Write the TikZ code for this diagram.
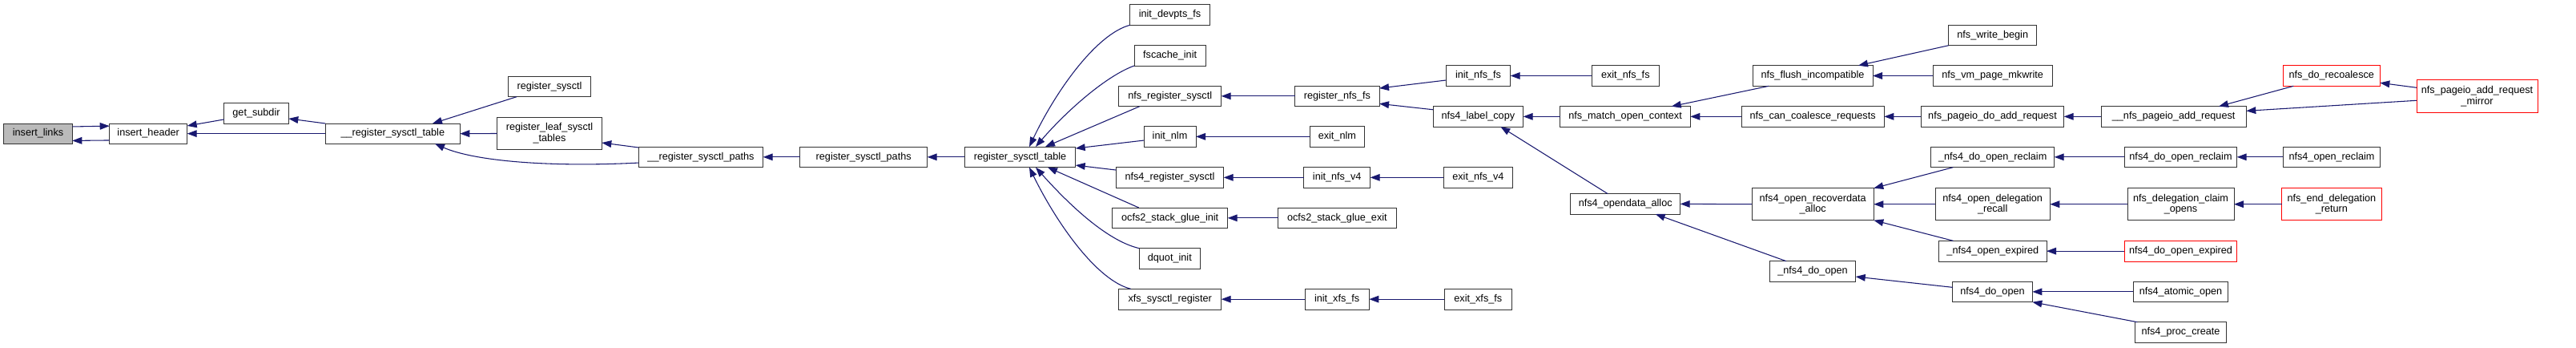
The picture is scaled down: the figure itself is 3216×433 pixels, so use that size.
\documentclass[tikz,border=0pt]{standalone}
\usepackage{fontspec}
\setmainfont{Liberation Sans}
\usetikzlibrary{arrows.meta,calc}
\definecolor{edgeblue}{HTML}{191970}
\tikzset{
  box/.style={draw=black!80,line width=0.75pt,inner sep=0pt,outer sep=0pt,fill=white,
    align=center,font=\fontsize{9.5}{10.3}\selectfont},
  hl/.style={fill=black!27},
  redbox/.style={draw=red},
  e/.style={draw=edgeblue,line width=0.8pt,-{Triangle[length=9pt,width=6.5pt]}}
}
\newcommand\gnode[7][]{%
  \node[box,#1,minimum width={(#5-#3)*0.75pt},minimum height={(#6-#4)*0.75pt}] (#2) at ({(#3+#5)/2},{(#4+#6)/2}) {#7};}
\begin{document}
\begin{tikzpicture}[x=0.75pt,y=-0.75pt]
\fill[white] (0,0) rectangle (3216,433);
\useasboundingbox (0,0) rectangle (3216,433);
\gnode[hl]{links}{4.7}{154}{90.3}{179.3}{insert\_links}
\gnode{header}{136.7}{154}{233.7}{179.3}{insert\_header}
\gnode{subdir}{279.7}{128.3}{360.3}{154}{get\_subdir}
\gnode{rstU}{406.3}{154}{574.3}{179.3}{\_\_register\_sysctl\_table}
\gnode{regsysctl}{634.3}{95}{737.7}{120.7}{register\_sysctl}
\gnode{leaf}{620.7}{146.3}{751.3}{186.7}{register\_leaf\_sysctl\\\_tables}
\gnode{rspU}{797.3}{183}{952.7}{208.7}{\_\_register\_sysctl\_paths}
\gnode{rsp}{998.7}{183}{1157.7}{208.7}{register\_sysctl\_paths}
\gnode{rst}{1204.3}{183}{1342.7}{208.7}{register\_sysctl\_table}
\gnode{devpts}{1410.7}{5.7}{1510.3}{31.3}{init\_devpts\_fs}
\gnode{fscache}{1416}{56.7}{1505.3}{82}{fscache\_init}
\gnode{nfsreg}{1396.7}{107}{1524.7}{132.7}{nfs\_register\_sysctl}
\gnode{initnlm}{1428}{157.7}{1493}{183}{init\_nlm}
\gnode{nfsfourreg}{1393.3}{208.7}{1527.7}{234}{nfs4\_register\_sysctl}
\gnode{ocfs}{1388.7}{259}{1532.7}{284.7}{ocfs2\_stack\_glue\_init}
\gnode{dquot}{1422.3}{309.7}{1498.3}{335}{dquot\_init}
\gnode{xfs}{1396.7}{360.3}{1524.7}{386}{xfs\_sysctl\_register}
\gnode{regnfs}{1616.7}{107}{1722}{132.7}{register\_nfs\_fs}
\gnode{exitnlm}{1635}{157.7}{1703.7}{183}{exit\_nlm}
\gnode{initv4}{1627.7}{208.7}{1710.7}{234}{init\_nfs\_v4}
\gnode{ocfsexit}{1595.7}{259}{1743}{284.7}{ocfs2\_stack\_glue\_exit}
\gnode{initxfs}{1629}{360.3}{1709.3}{386}{init\_xfs\_fs}
\gnode{initnfsfs}{1805.3}{81.7}{1885.7}{107.3}{init\_nfs\_fs}
\gnode{label}{1789}{132.7}{1901.7}{158}{nfs4\_label\_copy}
\gnode{exitv4}{1802}{208.7}{1888.7}{234}{exit\_nfs\_v4}
\gnode{exitxfs}{1803.3}{360.3}{1887.3}{386}{exit\_xfs\_fs}
\gnode{exitnfsfs}{1987.3}{81.7}{2071.3}{107.3}{exit\_nfs\_fs}
\gnode{matchctx}{1947.7}{132.7}{2110.3}{158}{nfs\_match\_open\_context}
\gnode{opendata}{1960.7}{241.7}{2097.7}{267}{nfs4\_opendata\_alloc}
\gnode{flush}{2188}{81.7}{2338}{107.3}{nfs\_flush\_incompatible}
\gnode{cancoal}{2174}{132.7}{2352.3}{158}{nfs\_can\_coalesce\_requests}
\gnode{recover}{2187}{234.7}{2339.3}{274.7}{nfs4\_open\_recoverdata\\\_alloc}
\gnode{donU}{2209.3}{325.7}{2316.7}{351}{\_nfs4\_do\_open}
\gnode{writebegin}{2432.7}{31}{2542.7}{56.7}{nfs\_write\_begin}
\gnode{mkwrite}{2413.3}{81.7}{2562}{107.3}{nfs\_vm\_page\_mkwrite}
\gnode{doadd}{2398.3}{132.7}{2576.7}{158}{nfs\_pageio\_do\_add\_request}
\gnode{reclaimU}{2410.7}{183}{2564.7}{208.7}{\_nfs4\_do\_open\_reclaim}
\gnode{delrecall}{2416}{234.7}{2559.3}{274.7}{nfs4\_open\_delegation\\\_recall}
\gnode{expiredU}{2420.7}{300.3}{2555}{326}{\_nfs4\_open\_expired}
\gnode{doopen}{2437.7}{351}{2537.3}{376.7}{nfs4\_do\_open}
\gnode{addreqU}{2623}{132.7}{2804.3}{158}{\_\_nfs\_pageio\_add\_request}
\gnode[redbox]{recoalesce}{2850.3}{81.7}{2971.3}{107.3}{nfs\_do\_recoalesce}
\gnode[redbox]{mirror}{3017}{99.3}{3168}{140.3}{nfs\_pageio\_add\_request\\\_mirror}
\gnode{doreclaim}{2652.3}{183}{2792.7}{208.7}{nfs4\_do\_open\_reclaim}
\gnode{openreclaim}{2850.3}{183}{2971.7}{208.7}{nfs4\_open\_reclaim}
\gnode{claimopens}{2656}{234.7}{2789}{274.7}{nfs\_delegation\_claim\\\_opens}
\gnode[redbox]{enddel}{2848.7}{234.7}{2973}{274.7}{nfs\_end\_delegation\\\_return}
\gnode[redbox]{doexpired}{2652.3}{300.3}{2792.7}{326}{nfs4\_do\_open\_expired}
\gnode{atomic}{2663.3}{351}{2781.7}{376.7}{nfs4\_atomic\_open}
\gnode{proccreate}{2665.7}{401.7}{2779.3}{427}{nfs4\_proc\_create}
% edges
\draw[e] ($(links.east)+(0,-8.7)$) -- ($(header.west)+(0,-9.5)$);
\draw[e] ($(header.west)+(0,8.3)$) -- ($(links.east)+(0,8.8)$);
\draw[e] ($(subdir.west)+(0,7.8)$) -- ($(header.east)+(0,-9.7)$);
\draw[e] (rstU.west) -- (header.east);
\draw[e] (rstU.north west) -- ($(subdir.east)+(0,6.8)$);
\draw[e] ($(regsysctl.south)+(-41,0)$) -- ($(rstU.north)+(49.7,0)$);
\draw[e] (leaf.west) -- (rstU.east);
\draw[e] ($(rspU.west)+(0,7.2)$) .. controls (680,209) and (590,200) .. ($(rstU.south)+(52.7,0)$);
\draw[e] ($(rspU.north west)+(0,1)$) -- ($(leaf.east)+(0,11.5)$);
\draw[e] (rsp.west) -- (rspU.east);
\draw[e] (rst.west) -- (rsp.east);
\draw[e] (devpts.south west) .. controls (1370,42) and (1320,110) .. ($(rst.north)+(11.5,0)$);
\draw[e] (fscache.south west) .. controls (1380,95) and (1330,140) .. ($(rst.north)+(19.5,0)$);
\draw[e] ($(nfsreg.south)+(-38,0)$) -- ($(rst.north)+(31.5,0)$);
\draw[e] ($(initnlm.west)+(0,4.7)$) -- ($(rst.east)+(0,-10.8)$);
\draw[e] ($(nfsfourreg.west)+(0,-9.3)$) -- ($(rst.east)+(0,10.2)$);
\draw[e] ($(ocfs.north)+(-39,0)$) -- ($(rst.south)+(34.5,0)$);
\draw[e] (dquot.north west) .. controls (1380,300) and (1330,250) .. ($(rst.south)+(19.5,0)$);
\draw[e] ($(xfs.north west)+(15,0)$) .. controls (1370,350) and (1320,280) .. ($(rst.south)+(11.5,0)$);
\draw[e] (regnfs.west) -- (nfsreg.east);
\draw[e] (exitnlm.west) -- (initnlm.east);
\draw[e] (initv4.west) -- (nfsfourreg.east);
\draw[e] (ocfsexit.west) -- (ocfs.east);
\draw[e] (initxfs.west) -- (xfs.east);
\draw[e] ($(initnfsfs.west)+(0,5.5)$) -- ($(regnfs.east)+(0,-9.8)$);
\draw[e] ($(label.west)+(0,-8.6)$) -- ($(regnfs.east)+(0,9.5)$);
\draw[e] (exitnfsfs.west) -- (initnfsfs.east);
\draw[e] (exitv4.west) -- (initv4.east);
\draw[e] (exitxfs.west) -- (initxfs.east);
\draw[e] (matchctx.west) -- (label.east);
\draw[e] ($(opendata.north)+(-21.9,0)$) -- ($(label.south)+(28,0)$);
\draw[e] ($(flush.south)+(-54.7,0)$) -- ($(matchctx.north)+(57.7,0)$);
\draw[e] (cancoal.west) -- (matchctx.east);
\draw[e] (recover.west) -- (opendata.east);
\draw[e] ($(donU.north)+(-33,0)$) -- ($(opendata.south)+(37.5,0)$);
\draw[e] (writebegin.south west) -- ($(flush.north)+(57,0)$);
\draw[e] (mkwrite.west) -- (flush.east);
\draw[e] (doadd.west) -- (cancoal.east);
\draw[e] ($(reclaimU.south)+(-49.4,0)$) -- (recover.north east);
\draw[e] (delrecall.west) -- (recover.east);
\draw[e] ($(expiredU.north)+(-49.5,0)$) -- (recover.south east);
\draw[e] ($(doopen.west)+(0,-5.5)$) -- ($(donU.east)+(0,6.7)$);
\draw[e] (addreqU.west) -- (doadd.east);
\draw[e] (doreclaim.west) -- (reclaimU.east);
\draw[e] (claimopens.west) -- (delrecall.east);
\draw[e] (doexpired.west) -- (expiredU.east);
\draw[e] (atomic.west) -- (doopen.east);
\draw[e] ($(proccreate.north west)+(2.6,0)$) -- (doopen.south east);
\draw[e] ($(recoalesce.south)+(-47.5,0)$) -- ($(addreqU.north)+(56.3,0)$);
\draw[e] ($(mirror.west)+(0,5.5)$) -- ($(addreqU.east)+(0,-7)$);
\draw[e] ($(mirror.west)+(0,-10.5)$) -- ($(recoalesce.east)+(0,8.8)$);
\draw[e] (openreclaim.west) -- (doreclaim.east);
\draw[e] (enddel.west) -- (claimopens.east);
\end{tikzpicture}
\end{document}
